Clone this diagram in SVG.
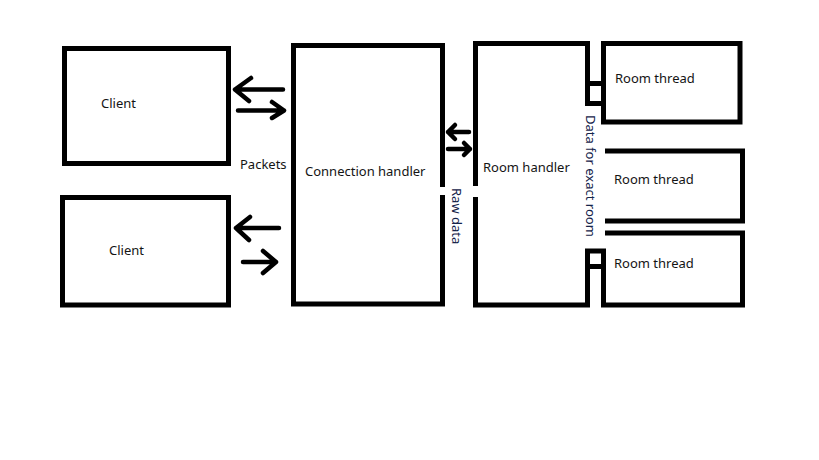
<svg xmlns="http://www.w3.org/2000/svg" width="819" height="460" viewBox="0 0 819 460">
<style>
.box{fill:none;stroke:#000;stroke-width:5;stroke-linejoin:miter;stroke-linecap:butt}
.arr{fill:none;stroke:#000;stroke-width:4.5;stroke-linecap:round;stroke-linejoin:round}
.t{font-family:"Noto Sans","Open Sans","DejaVu Sans",sans-serif;font-size:13px;fill:#141414}
.v{font-family:"Noto Sans","Open Sans","DejaVu Sans",sans-serif;font-size:13px;fill:#15234a}
</style>
<rect width="819" height="460" fill="#fff"/>
<g id="client1">
<rect class="box" x="64.5" y="48.5" width="164" height="115"/>
<text class="t" x="101" y="108">Client</text>
</g>
<g id="client2">
<rect class="box" x="62.5" y="197.5" width="166" height="107.5"/>
<text class="t" x="109" y="255">Client</text>
</g>
<g id="connection-handler">
<path class="box" d="M442.5,187 V45.5 H293.5 V304 H442.5 V195"/>
<text class="t" x="305" y="176">Connection handler</text>
</g>
<g id="room-handler">
<path class="box" d="M587.5,105 V43.5 H475.5 V186"/>
<path class="box" d="M475.5,197 V305 H587.5 V249"/>
<path class="box" d="M585,103.5 H606 M590,83.5 H601 M585,251 H606 M590,266.5 H601"/>
<text class="t" x="483" y="172">Room handler</text>
</g>
<g id="room-thread1">
<rect class="box" x="603.5" y="43.5" width="136.5" height="78.5"/>
<text class="t" x="615" y="83">Room thread</text>
</g>
<g id="room-thread2">
<path class="box" d="M605,151 H742.5 V221 H605"/>
<text class="t" x="614" y="184">Room thread</text>
</g>
<g id="room-thread3">
<path class="box" d="M605,233 H742.5 V305 H603.5 V249"/>
<text class="t" x="614" y="268">Room thread</text>
</g>
<g id="connectors">
<path class="arr" d="M283,89.5 H235 M251,78 L235,89.5 L249,101"/>
<path class="arr" d="M238,110.5 H284 M272,102 L284,110.5 L272,118"/>
<path class="arr" d="M279,228 H236 M250,217 L236,228 L249,240"/>
<path class="arr" d="M243,262 H276 M263,251 L276,262 L263,273"/>
<path class="arr" d="M469,132 H448 M455,125 L448,132 L455,139"/>
<path class="arr" d="M448,149 H470 M464,143 L470,149 L464,155"/>
<text class="t" x="240" y="169">Packets</text>
<text class="v" transform="translate(452,188) rotate(90)">Raw data</text>
<text class="v" transform="translate(586,115) rotate(90)">Data for exact room</text>
</g>
</svg>
